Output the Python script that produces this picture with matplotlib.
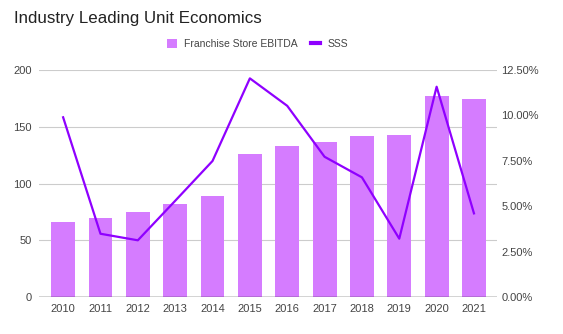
import matplotlib.pyplot as plt
from matplotlib.lines import Line2D
from matplotlib.ticker import FuncFormatter

plt.rcParams['font.family'] = ['Liberation Sans', 'DejaVu Sans']

years = ["2010", "2011", "2012", "2013", "2014", "2015",
         "2016", "2017", "2018", "2019", "2020", "2021"]
ebitda = [66.4, 69.7, 75, 82, 88.7, 125.6, 133, 136.2, 141.5, 142.9, 177.2, 174.3]
sss = [9.89, 3.49, 3.13, 5.3, 7.49, 12.03, 10.52, 7.72, 6.59, 3.22, 11.57, 4.61]

bar_color = "#d57cff"
line_color = "#8f00ff"
text_color = "#444444"

fig = plt.figure(figsize=(5.63, 3.34), dpi=100)
ax = fig.add_axes([0.069, 0.110, 0.814, 0.681])
ax2 = ax.twinx()

x = list(range(len(years)))
bars = ax.bar(x, ebitda, width=0.64, color=bar_color, zorder=2)
ax2.plot(x, sss, color=line_color, lw=1.6, zorder=3)

ax.set_xlim(-0.65, 11.62)
ax.set_ylim(0, 200)
ax.set_yticks([0, 50, 100, 150, 200])
ax2.set_ylim(0, 12.5)
ax2.set_yticks([0, 2.5, 5, 7.5, 10, 12.5])
ax2.yaxis.set_major_formatter(FuncFormatter(lambda v, p: f"{v:.2f}%"))

ax.set_xticks(x)
ax.set_xticklabels(years)
ax.grid(axis="y", color="#cccccc", lw=0.8, zorder=0)
ax.set_axisbelow(True)

for a in (ax, ax2):
    for s in ("top", "left", "right", "bottom"):
        a.spines[s].set_visible(False)
    a.tick_params(length=0, labelsize=8, labelcolor=text_color, pad=5)
ax2.tick_params(pad=3)
ax.axhline(0, color="#333333", lw=1, zorder=4)

fig.text(0.025, 0.945, "Industry Leading Unit Economics", fontsize=12.2,
         color="#222222", va="center", ha="left")
line_handle = Line2D([], [], color=line_color, lw=3)
fig.legend([bars, line_handle], ["Franchise Store EBITDA", "SSS"], loc="center",
           bbox_to_anchor=(0.458, 0.868), ncol=2, frameon=False, fontsize=7.5,
           labelcolor=text_color, handlelength=0.9, handleheight=0.9,
           columnspacing=1.3, handletextpad=0.7)

fig.savefig("out.png", dpi=100)
